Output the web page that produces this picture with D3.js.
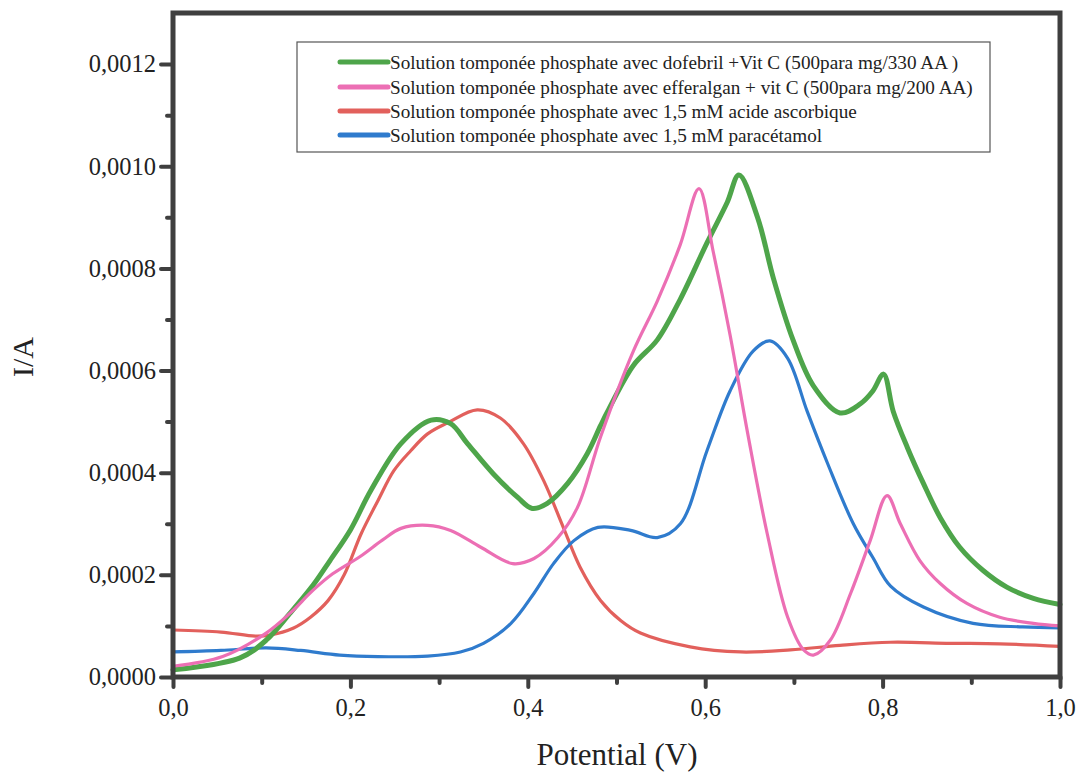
<!DOCTYPE html>
<html><head><meta charset="utf-8">
<script src="https://cdn.jsdelivr.net/npm/d3@7"></script>
<style>body{margin:0;background:#fff}svg{display:block}</style>
</head><body>
<svg id="c" width="1078" height="774"></svg>
<script>
// ---- data ----
const seriesNames = [
  "Solution tomponée phosphate avec dofebril +Vit C (500para mg/330 AA )",
  "Solution tomponée phosphate avec efferalgan + vit C (500para mg/200 AA)",
  "Solution tomponée phosphate avec 1,5 mM acide ascorbique",
  "Solution tomponée phosphate avec 1,5 mM paracétamol"
];
const seriesColors = ["#4ea54a", "#ec6fb4", "#e2605c", "#2f7bcd"];

const greenV = [0,0.075,0.105,0.132,0.158,0.177,0.2,0.223,0.257,0.291,0.313,0.332,0.361,0.389,0.405,0.422,0.445,0.467,0.482,0.49,0.519,0.546,0.572,0.602,0.625,0.638,0.659,0.677,0.699,0.722,0.752,0.775,0.789,0.801,0.812,0.828,0.846,0.865,0.887,0.913,0.94,0.97,1.0];
const greenI = [0.000014,0.000037,0.000072,0.000125,0.00018,0.000228,0.000288,0.000365,0.000457,0.000503,0.000496,0.000457,0.000398,0.000351,0.00033,0.00034,0.000379,0.000437,0.000492,0.00052,0.00061,0.00066,0.00074,0.00085,0.00093,0.000983,0.0009,0.00078,0.00066,0.00057,0.000517,0.000535,0.00056,0.000593,0.00052,0.000449,0.000379,0.000312,0.000254,0.000209,0.000176,0.000154,0.000142];

const pinkV = [0,0.056,0.105,0.132,0.158,0.18,0.211,0.236,0.257,0.287,0.313,0.347,0.383,0.407,0.434,0.456,0.482,0.519,0.546,0.572,0.593,0.609,0.628,0.648,0.67,0.693,0.711,0.722,0.741,0.764,0.786,0.805,0.82,0.842,0.865,0.895,0.932,0.97,1.0];
const pinkI = [0.000021,0.00004,0.000086,0.000125,0.00017,0.000202,0.000236,0.000268,0.000291,0.000297,0.000287,0.000254,0.000222,0.000232,0.000273,0.000332,0.00047,0.000638,0.000736,0.000847,0.000956,0.000833,0.00067,0.000476,0.00028,0.000117,0.000053,0.000043,0.000072,0.000164,0.000267,0.000355,0.0003,0.000228,0.000183,0.000144,0.000117,0.000105,0.0001];

const redV = [0,0.054,0.093,0.109,0.136,0.155,0.175,0.193,0.212,0.231,0.249,0.268,0.287,0.31,0.343,0.369,0.395,0.418,0.44,0.459,0.482,0.505,0.527,0.583,0.64,0.696,0.752,0.809,0.876,0.932,1.0];
const redI = [0.000092,0.000088,0.00008,0.000082,0.000096,0.000117,0.00015,0.0002,0.00028,0.000345,0.000404,0.000443,0.000476,0.000498,0.000523,0.000507,0.000457,0.000384,0.000293,0.000215,0.00015,0.00011,0.000086,0.000059,0.000049,0.000053,0.000062,0.000068,0.000066,0.000065,0.00006];

const blueV = [0,0.054,0.105,0.144,0.188,0.231,0.287,0.324,0.35,0.381,0.407,0.429,0.452,0.479,0.516,0.546,0.572,0.602,0.628,0.654,0.673,0.693,0.715,0.738,0.767,0.789,0.809,0.846,0.902,0.958,1.0];
const blueI = [0.000049,0.000052,0.000057,0.000052,0.000043,0.00004,0.000041,0.000049,0.000066,0.000105,0.000164,0.000222,0.000267,0.000293,0.000287,0.000273,0.0003,0.000443,0.00056,0.000638,0.000658,0.000624,0.00052,0.000418,0.0003,0.000234,0.000178,0.000137,0.000105,0.000098,0.000096];

const xTicks = [0, 0.2, 0.4, 0.6, 0.8, 1.0];
const xMinor = [0.1, 0.3, 0.5, 0.7, 0.9];
const yTicks = [0, 0.0002, 0.0004, 0.0006, 0.0008, 0.0010, 0.0012];
const yMinor = [0.0001, 0.0003, 0.0005, 0.0007, 0.0009, 0.0011];
const xTitle = "Potential (V)";
const yTitle = "I/A";

// ---- layout ----
const W = 1078, H = 774;
const m = {left: 173, right: 18, top: 13, bottom: 97};
const svg = d3.select("#c");
const x = d3.scaleLinear().domain([0, 1.0]).range([m.left, W - m.right]);
const y = d3.scaleLinear().domain([0, 0.0013]).range([H - m.bottom, m.top]);

const series = [
  {name: seriesNames[0], color: seriesColors[0], w: 5, v: greenV, i: greenI},
  {name: seriesNames[1], color: seriesColors[1], w: 3.2, v: pinkV, i: pinkI},
  {name: seriesNames[2], color: seriesColors[2], w: 3.2, v: redV, i: redI},
  {name: seriesNames[3], color: seriesColors[3], w: 3.2, v: blueV, i: blueI}
];

const line = d3.line().x(d => x(d[0])).y(d => y(d[1])).curve(d3.curveCatmullRom.alpha(0.5));
const order = [2, 3, 0, 1];
order.forEach(k => {
  const s = series[k];
  svg.append("path")
    .datum(s.v.map((v, j) => [v, s.i[j]]))
    .attr("fill", "none").attr("stroke", s.color).attr("stroke-width", s.w)
    .attr("stroke-linejoin", "round").attr("stroke-linecap", "round")
    .attr("d", line);
});

// ---- axes ----
const axisColor = "#3f3f3f";
const fmtY = v => d3.format(".4f")(v).replace(".", ",");
const fmtX = v => d3.format(".1f")(v).replace(".", ",");
const font = "'Liberation Serif', 'Times New Roman', serif";

const gx = svg.append("g").attr("transform", `translate(0,${H - m.bottom})`)
  .call(d3.axisBottom(x).tickValues(xTicks).tickFormat(fmtX).tickSize(10).tickPadding(12));
const gxm = svg.append("g").attr("transform", `translate(0,${H - m.bottom})`)
  .call(d3.axisBottom(x).tickValues(xMinor).tickFormat("").tickSize(6));
const gy = svg.append("g").attr("transform", `translate(${m.left},0)`)
  .call(d3.axisLeft(y).tickValues(yTicks).tickFormat(fmtY).tickSize(12).tickPadding(5));
const gym = svg.append("g").attr("transform", `translate(${m.left},0)`)
  .call(d3.axisLeft(y).tickValues(yMinor).tickFormat("").tickSize(6));
[gx, gxm, gy, gym].forEach(g => {
  g.select(".domain").remove();
  g.selectAll(".tick line").attr("stroke", axisColor).attr("stroke-width", 4).attr("stroke-linecap", "round");
  g.selectAll(".tick text").attr("fill", "#222").style("font-family", font).style("font-size", "24.5px");
});

// frame
svg.append("rect")
  .attr("x", m.left).attr("y", m.top)
  .attr("width", W - m.left - m.right).attr("height", H - m.top - m.bottom)
  .attr("fill", "none").attr("stroke", axisColor).attr("stroke-width", 5);

// titles
svg.append("text").attr("x", 617).attr("y", 765)
  .attr("text-anchor", "middle").attr("fill", "#222")
  .style("font-family", font).style("font-size", "31px").text(xTitle);
svg.append("text").attr("transform", `translate(33,357) rotate(-90)`)
  .attr("text-anchor", "middle").attr("fill", "#222")
  .style("font-family", font).style("font-size", "30px").text(yTitle);

// ---- legend ----
const lg = svg.append("g");
lg.append("rect").attr("x", 297).attr("y", 42).attr("width", 693).attr("height", 110)
  .attr("fill", "#fff").attr("stroke", "#555").attr("stroke-width", 1.2);
const rowY = [62, 87, 111, 135];
series.forEach((s, k) => {
  lg.append("line").attr("x1", 340).attr("x2", 388).attr("y1", rowY[k]).attr("y2", rowY[k])
    .attr("stroke", s.color).attr("stroke-width", 5).attr("stroke-linecap", "round");
  lg.append("text").attr("x", 390).attr("y", rowY[k]).attr("dy", "0.35em")
    .attr("fill", "#222").style("font-family", font).style("font-size", "19.2px").text(s.name);
});
</script>
</body></html>
